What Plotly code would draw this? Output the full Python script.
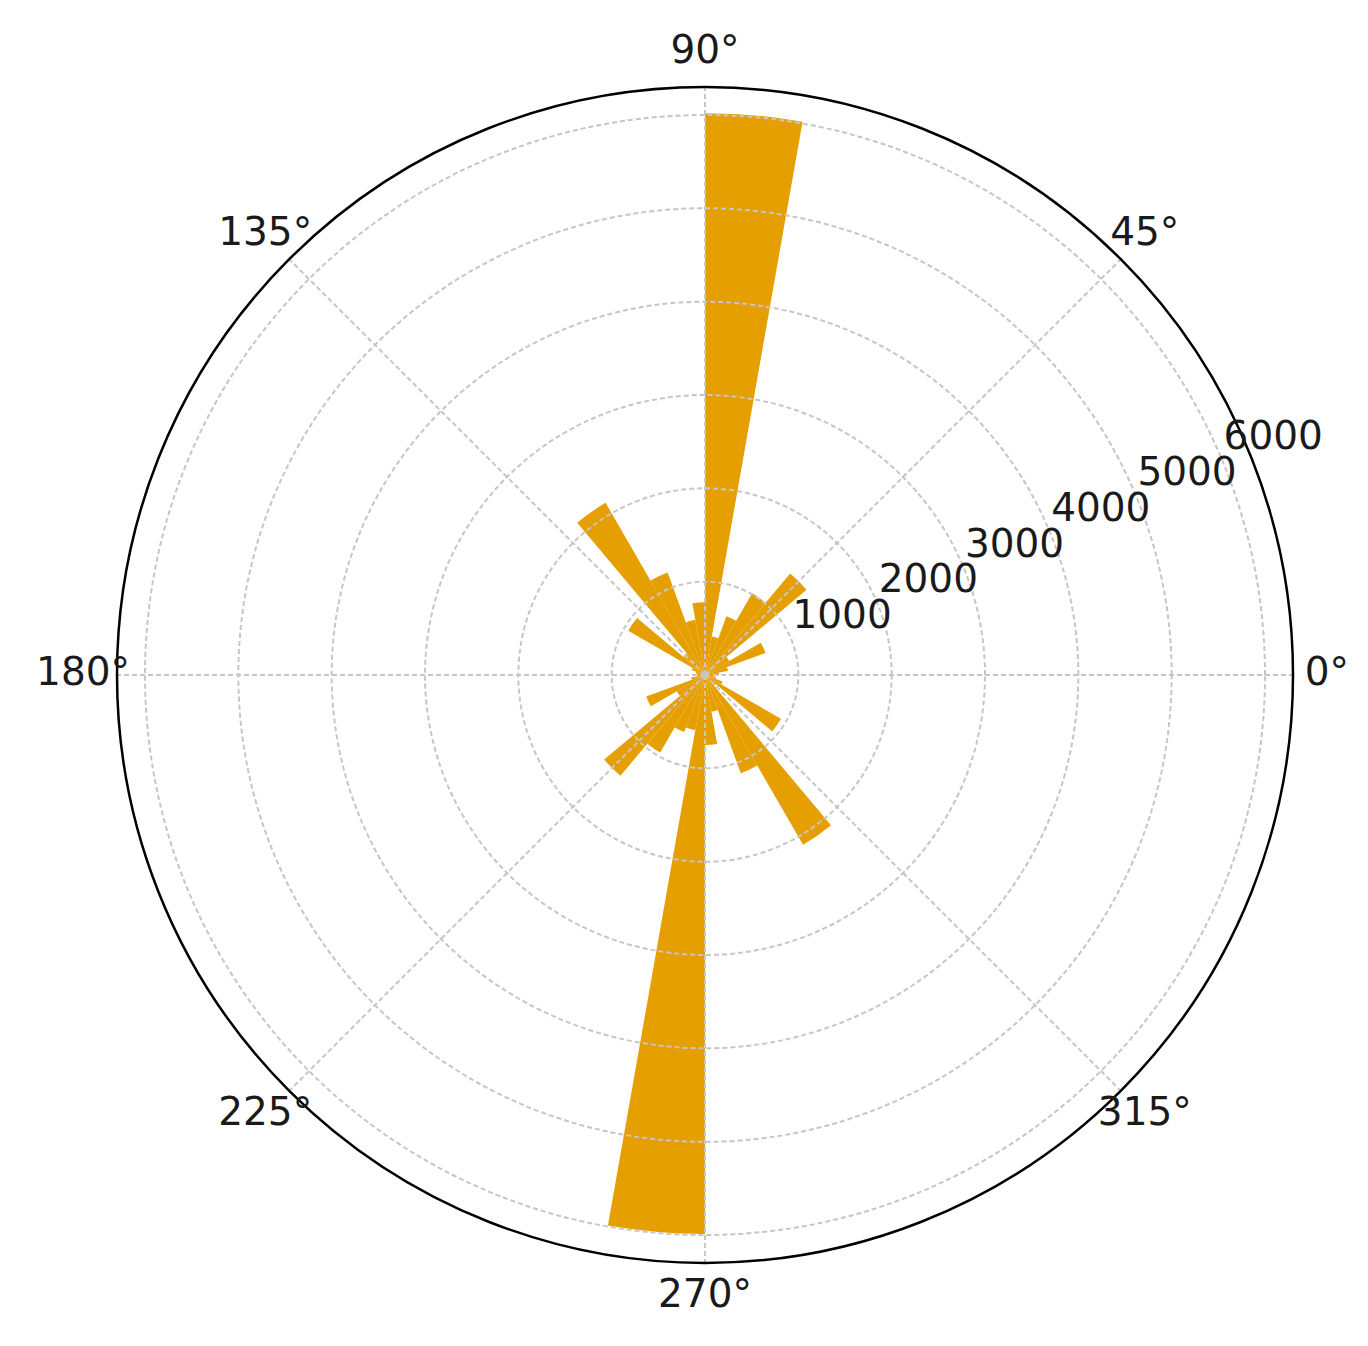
import plotly.graph_objects as go

bin_centres = [5, 15, 25, 35, 45, 55, 65, 75, 85, 95, 105, 115,
               125, 135, 145, 155, 165, 175, 185, 195, 205, 215, 225, 235,
               245, 255, 265, 275, 285, 295, 305, 315, 325, 335, 345, 355]
counts = [150, 250, 690, 300, 1420, 1010, 670, 420, 6020, 780, 600, 1170,
          2130, 300, 950, 150, 100, 80, 80, 150, 670, 350, 1410, 960,
          650, 600, 5990, 750, 400, 1120, 2100, 150, 940, 200, 120, 100]

angle_ticks = [0, 45, 90, 135, 180, 225, 270, 315]
angle_labels = [f"{a}°" for a in angle_ticks]
radial_ticks = [1000, 2000, 3000, 4000, 5000, 6000]
radial_labels = [str(v) for v in radial_ticks]

R_MAX = 6300
RLABEL_ANGLE = 22.5
RLABEL_PAD = 590      # matplotlib puts r-labels just outside their ring
THETA_LABEL_R = 6664  # theta labels sit centred a little outside the rim

W, H = 1368, 1346
cx, cy, rad = 697, 667, 588
rad_lbl = 640  # larger, same-scale subplot that only carries the labels


def domain(r):
    return dict(x=[(cx - r) / W, (cx + r) / W],
                y=[1 - (cy + r) / H, 1 - (cy - r) / H])


GRID = "#c6c6c6"
DASH = "5px,3px"
TEXT = "#1a1a1a"

fig = go.Figure()
fig.add_trace(go.Barpolar(
    r=counts,
    theta=bin_centres,
    width=10,
    marker=dict(color="#E69F00", line=dict(width=0)),
    subplot="polar",
))
# empty trace so the grid overlay (drawn above the bars) shows up
fig.add_trace(go.Barpolar(r=[], theta=[], subplot="polar2", hoverinfo="skip"))

fig.add_trace(go.Scatterpolar(
    r=[v + RLABEL_PAD for v in radial_ticks],
    theta=[RLABEL_ANGLE] * len(radial_ticks),
    text=radial_labels,
    mode="text",
    textposition="middle center",
    textfont=dict(size=39, color=TEXT),
    cliponaxis=False,
    hoverinfo="skip",
    subplot="polar3",
))
fig.add_trace(go.Scatterpolar(
    r=[THETA_LABEL_R] * len(angle_ticks),
    theta=angle_ticks,
    text=angle_labels,
    mode="text",
    textposition="middle center",
    textfont=dict(size=39, color=TEXT),
    cliponaxis=False,
    hoverinfo="skip",
    subplot="polar3",
))

hidden_r = dict(showgrid=False, showline=False, showticklabels=False, ticks="")
hidden_a = dict(rotation=0, direction="counterclockwise", showline=False,
                showgrid=False, showticklabels=False, ticks="")

fig.update_layout(
    width=W, height=H,
    margin=dict(l=0, r=0, t=0, b=0),
    paper_bgcolor="white",
    showlegend=False,
    font=dict(family="DejaVu Sans", size=39, color=TEXT),
    polar=dict(
        domain=domain(rad),
        bgcolor="white",
        radialaxis=dict(range=[0, R_MAX], **hidden_r),
        angularaxis=hidden_a,
    ),
    polar2=dict(
        domain=domain(rad),
        bgcolor="rgba(0,0,0,0)",
        radialaxis=dict(
            range=[0, R_MAX],
            tickvals=radial_ticks,
            showticklabels=False,
            showline=False,
            ticks="",
            gridcolor=GRID,
            griddash=DASH,
            gridwidth=1.5,
        ),
        angularaxis=dict(
            rotation=0,
            direction="counterclockwise",
            tickvals=angle_ticks,
            showticklabels=False,
            showline=True,
            linecolor="black",
            linewidth=2.5,
            ticks="",
            gridcolor=GRID,
            griddash=DASH,
            gridwidth=1.5,
        ),
    ),
    polar3=dict(
        domain=domain(rad_lbl),
        bgcolor="rgba(0,0,0,0)",
        radialaxis=dict(range=[0, R_MAX * rad_lbl / rad], **hidden_r),
        angularaxis=hidden_a,
    ),
)

fig.write_html("out.html")
